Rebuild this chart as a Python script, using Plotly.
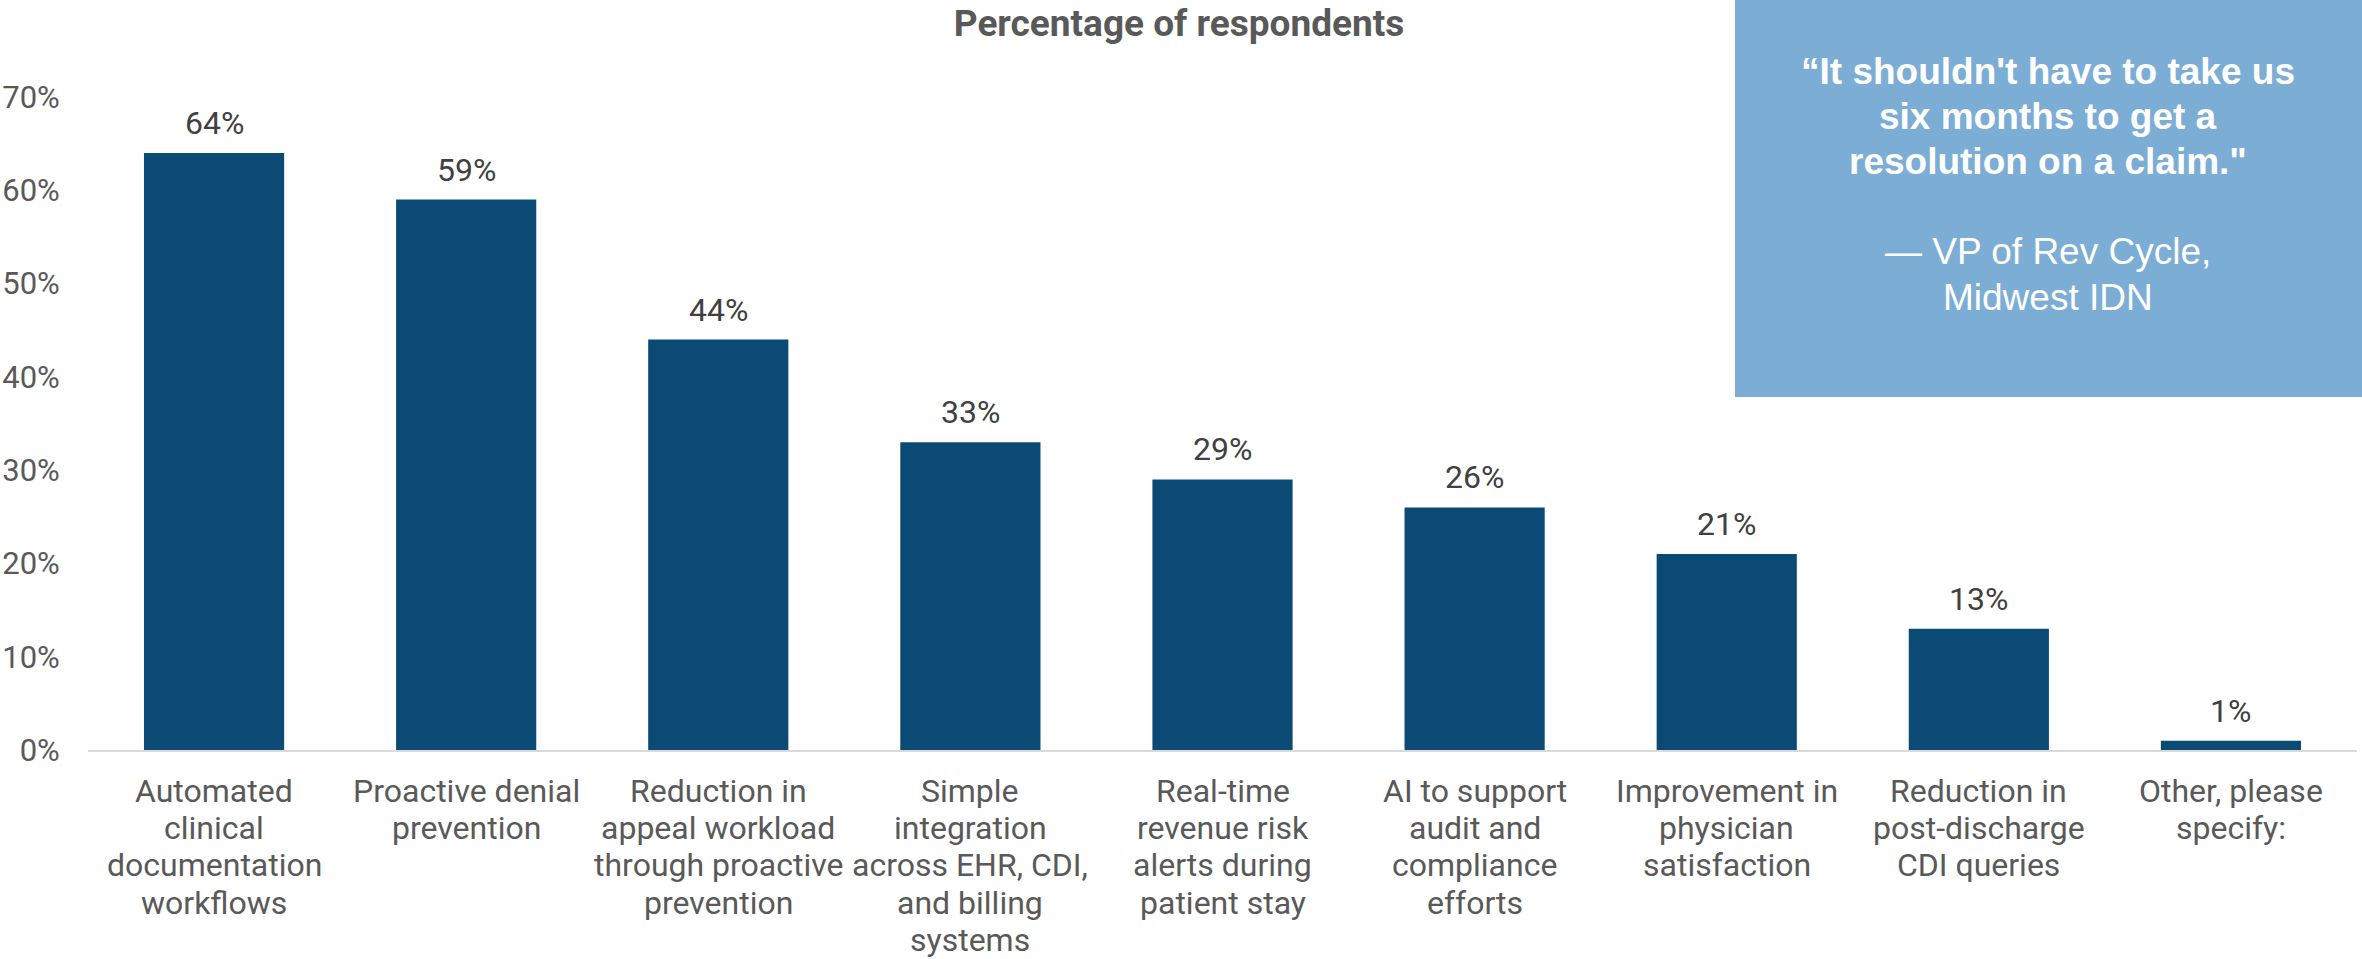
import plotly.graph_objects as go

# Survey results: share of respondents selecting each capability
categories = [
    "Automated<br>clinical<br>documentation<br>workflows",
    "Proactive denial<br>prevention",
    "Reduction in<br>appeal workload<br>through proactive<br>prevention",
    "Simple<br>integration<br>across EHR, CDI,<br>and billing<br>systems",
    "Real-time<br>revenue risk<br>alerts during<br>patient stay",
    "AI to support<br>audit and<br>compliance<br>efforts",
    "Improvement in<br>physician<br>satisfaction",
    "Reduction in<br>post-discharge<br>CDI queries",
    "Other, please<br>specify:",
]
values = [64, 59, 44, 33, 29, 26, 21, 13, 1]
tick_values = [0, 10, 20, 30, 40, 50, 60, 70]
tick_labels = [f"{v}%" for v in tick_values]

title_text = "Percentage of respondents"
quote_bold = [
    "\u201cIt shouldn't have to take us",
    "six months to get a",
    "resolution on a claim.\"",
]
quote_source = [
    "\u2014 VP of Rev Cycle,",
    "Midwest IDN",
]

W, H = 2362, 959
M_L, M_R, M_T, M_B = 88, 5, 97, 209
plot_w = W - M_L - M_R
plot_h = H - M_T - M_B

BAR = "#0B4A74"
GRAY = "#595959"
DARK = "#404040"
BOX = "#7BADD5"
FONT = "Roboto"
LABEL_LINE = 37.2   # line pitch of the category labels, px
QUOTE_LINE = 45.2   # line pitch of the quote, px

fig = go.Figure(
    go.Bar(
        x=categories,
        y=values,
        marker=dict(color=BAR, line=dict(width=0)),
        hoverinfo="skip",
    )
)

# value labels above each bar
for c, v in zip(categories, values):
    fig.add_annotation(
        x=c, y=v, text=f"{v}%", showarrow=False,
        xref="x", yref="y", yanchor="bottom", yshift=9,
        font=dict(family=FONT, size=32, color=DARK),
    )

# category labels, one line at a time for a tighter line pitch
for c in categories:
    for i, line in enumerate(c.split("<br>")):
        fig.add_annotation(
            x=c, y=0, text=line, showarrow=False,
            xref="x", yref="y", xanchor="center", yanchor="middle",
            yshift=-(41 + LABEL_LINE * i),
            font=dict(family=FONT, size=32, color=GRAY),
        )

def px_x(px):
    return (px - M_L) / plot_w

def px_y(py):
    return (H - M_B - py) / plot_h

# quote panel
fig.add_shape(
    type="rect", xref="paper", yref="paper",
    x0=px_x(1735), x1=px_x(W + 10), y0=px_y(397), y1=px_y(-10),
    fillcolor=BOX, line=dict(width=0), layer="above",
)
quote_rows = [(f"<b>{t}</b>", 71 + QUOTE_LINE * i) for i, t in enumerate(quote_bold)]
quote_rows += [(t, 71 + QUOTE_LINE * (i + 4)) for i, t in enumerate(quote_source)]
for text, ypx in quote_rows:
    fig.add_annotation(
        xref="paper", yref="paper",
        x=px_x(2048), y=px_y(ypx),
        xanchor="center", yanchor="middle",
        text=text, showarrow=False,
        font=dict(family="Liberation Sans", size=37, color="white"),
    )

fig.update_layout(
    width=W, height=H,
    margin=dict(l=M_L, r=M_R, t=M_T, b=M_B, pad=0, autoexpand=False),
    paper_bgcolor="white", plot_bgcolor="white",
    showlegend=False,
    bargap=0.444,
    title=dict(
        text=f"<b>{title_text}</b>",
        x=1179 / W, y=1 - 23 / H, xref="container", yref="container",
        xanchor="center", yanchor="middle",
        font=dict(family=FONT, size=37, color=GRAY),
    ),
    xaxis=dict(
        showgrid=False, showline=True, linecolor="#D9D9D9", linewidth=2,
        showticklabels=False, ticks="",
        fixedrange=True, automargin=False,
    ),
    yaxis=dict(
        range=[0, 70], showgrid=False, zeroline=False, showline=False,
        tickmode="array", tickvals=tick_values, ticktext=tick_labels,
        ticks="outside", ticklen=21, tickcolor="rgba(0,0,0,0)",
        tickfont=dict(family=FONT, size=31, color=GRAY),
        fixedrange=True, automargin=False,
    ),
    hovermode=False,
)

fig.write_html("out.html", config=dict(displayModeBar=False))
